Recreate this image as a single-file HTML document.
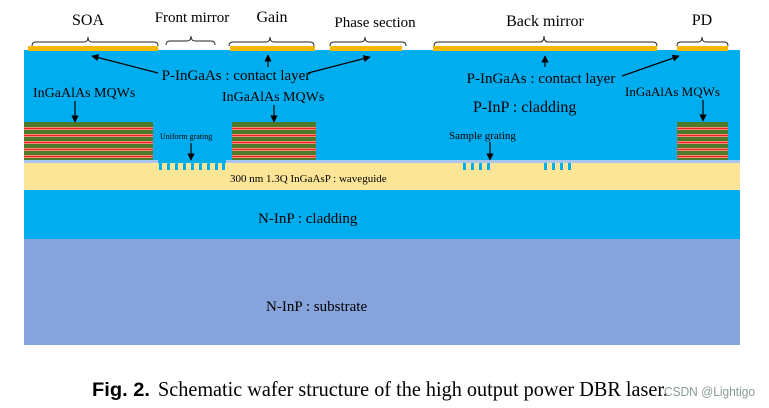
<!DOCTYPE html>
<html><head><meta charset="utf-8"><style>
html,body{margin:0;padding:0;background:#fff;}
svg{display:block;}
</style></head><body>
<svg width="769" height="408" viewBox="0 0 769 408" xmlns="http://www.w3.org/2000/svg">
<defs>
<marker id="a" viewBox="0 0 10 10" refX="9" refY="5" markerWidth="6" markerHeight="6" orient="auto"><path d="M0,0L10,5L0,10z" fill="#000"/></marker>
<g id="st">
<rect x="0" y="0" width="1" height="38" fill="#4f7a2a"/>
<rect x="0" y="5" width="1" height="3" fill="#f8d0c0"/><rect x="0" y="5.6" width="1" height="1.8" fill="#ee2418"/>
<rect x="0" y="12" width="1" height="3" fill="#f8d0c0"/><rect x="0" y="12.6" width="1" height="1.8" fill="#ee2418"/>
<rect x="0" y="19" width="1" height="3" fill="#f8d0c0"/><rect x="0" y="19.6" width="1" height="1.8" fill="#ee2418"/>
<rect x="0" y="26" width="1" height="3" fill="#f8d0c0"/><rect x="0" y="26.6" width="1" height="1.8" fill="#ee2418"/>
<rect x="0" y="33" width="1" height="3" fill="#f8d0c0"/><rect x="0" y="33.6" width="1" height="1.8" fill="#ee2418"/>
</g>
</defs>
<rect x="24" y="50" width="716" height="112" fill="#00aef0"/>
<rect x="24" y="160" width="716" height="3" fill="#a9c6f0"/>
<rect x="24" y="163" width="716" height="27" fill="#fde597"/>
<rect x="24" y="190" width="716" height="49" fill="#00aef0"/>
<rect x="24" y="239" width="716" height="106" fill="#86a4db"/>
<rect x="24" y="44" width="716" height="6" fill="#fff"/>
<g fill="#f6b800">
<rect x="28" y="46" width="130" height="5"/>
<rect x="230" y="46" width="85" height="5"/>
<rect x="330" y="46" width="72" height="5"/>
<rect x="433" y="46" width="224" height="5"/>
<rect x="677" y="46" width="51" height="5"/>
</g>
<g fill="none" stroke="#222" stroke-width="1">
<path d="M32,46 q0,-4 4,-4 h48 q4,0 4,-5 q0,5 4,5 h62 q4,0 4,4"/>
<path d="M166,45 q0,-4 4,-4 h17 q4,0 4,-5 q0,5 4,5 h16 q4,0 4,4"/>
<path d="M229,46 q0,-4 4,-4 h33 q4,0 4,-5 q0,5 4,5 h36 q4,0 4,4"/>
<path d="M330,46 q0,-4 4,-4 h27 q4,0 4,-5 q0,5 4,5 h33 q4,0 4,4"/>
<path d="M434,46 q0,-4 4,-4 h102 q4,0 4,-6 q0,6 4,6 h105 q4,0 4,4"/>
<path d="M677,46 q0,-4 4,-4 h17 q4,0 4,-5 q0,5 4,5 h18 q4,0 4,4"/>
</g>
<use href="#st" transform="translate(24,122) scale(129,1)"/>
<use href="#st" transform="translate(232,122) scale(84,1)"/>
<use href="#st" transform="translate(677,122) scale(51,1)"/>
<g fill="#00aef0">
<rect x="158" y="160" width="68" height="3"/>
<rect x="159" y="163" width="3" height="7"/><rect x="167" y="163" width="3" height="7"/><rect x="175" y="163" width="3" height="7"/><rect x="183" y="163" width="3" height="7"/><rect x="191" y="163" width="3" height="7"/><rect x="199" y="163" width="3" height="7"/><rect x="207" y="163" width="3" height="7"/><rect x="215" y="163" width="3" height="7"/><rect x="222" y="163" width="3" height="7"/>
<rect x="463" y="163" width="3" height="7"/><rect x="471" y="163" width="3" height="7"/><rect x="479" y="163" width="3" height="7"/><rect x="487" y="163" width="3" height="7"/>
<rect x="544" y="163" width="3" height="7"/><rect x="552" y="163" width="3" height="7"/><rect x="560" y="163" width="3" height="7"/><rect x="568" y="163" width="3" height="7"/>
</g>
<g stroke="#000" stroke-width="1.2" fill="none" marker-end="url(#a)">
<line x1="158" y1="73" x2="92" y2="56"/>
<line x1="268" y1="67" x2="268" y2="55"/>
<line x1="308" y1="73" x2="370" y2="57"/>
<line x1="75" y1="101" x2="75" y2="122"/>
<line x1="274" y1="105" x2="274" y2="122"/>
<line x1="191" y1="143" x2="191" y2="160"/>
<line x1="545" y1="67" x2="545" y2="56"/>
<line x1="622" y1="76" x2="679" y2="56"/>
<line x1="703" y1="100" x2="703" y2="121"/>
<line x1="490" y1="142" x2="490" y2="160"/>
</g>
<g font-family="Liberation Serif, serif" fill="#000">
<text x="88" y="25" font-size="16" text-anchor="middle">SOA</text>
<text x="192" y="22" font-size="15" text-anchor="middle">Front mirror</text>
<text x="272" y="22" font-size="16" text-anchor="middle">Gain</text>
<text x="375" y="27" font-size="15" text-anchor="middle">Phase section</text>
<text x="545" y="26" font-size="16" text-anchor="middle">Back mirror</text>
<text x="702" y="25" font-size="16" text-anchor="middle">PD</text>
<text x="236" y="80" font-size="15" text-anchor="middle">P-InGaAs : contact layer</text>
<text x="541" y="83" font-size="15" text-anchor="middle">P-InGaAs : contact layer</text>
<text x="33" y="97" font-size="14">InGaAlAs MQWs</text>
<text x="222" y="101" font-size="14">InGaAlAs MQWs</text>
<text x="625" y="96" font-size="13">InGaAlAs MQWs</text>
<text x="473" y="112" font-size="16">P-InP : cladding</text>
<text x="160" y="139" font-size="8">Uniform grating</text>
<text x="449" y="139" font-size="11">Sample grating</text>
<text x="230" y="182" font-size="11">300 nm 1.3Q InGaAsP : waveguide</text>
<text x="258" y="223" font-size="15">N-InP : cladding</text>
<text x="266" y="311" font-size="15">N-InP : substrate</text>
<text x="92" y="396" font-size="19" font-family="Liberation Sans, sans-serif" font-weight="bold" textLength="58" lengthAdjust="spacingAndGlyphs">Fig. 2.</text>
<text x="158" y="396" font-size="21" textLength="510" lengthAdjust="spacingAndGlyphs">Schematic wafer structure of the high output power DBR laser.</text>
<text x="664" y="396" font-size="13" font-family="Liberation Sans, sans-serif" fill="#8a9a9a" textLength="91" lengthAdjust="spacingAndGlyphs">CSDN @Lightigo</text>
</g>
</svg>
</body></html>
